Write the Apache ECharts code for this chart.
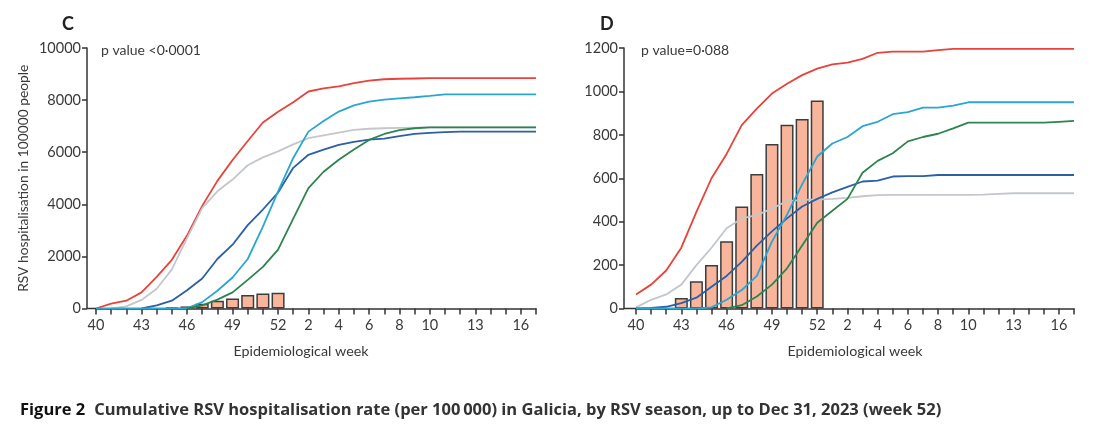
<!DOCTYPE html>
<html>
<head>
<meta charset="utf-8">
<script src="https://cdn.jsdelivr.net/npm/echarts@6/dist/echarts.min.js"></script>
<style>
html,body{margin:0;padding:0;background:#fff;}
#chart{width:1115px;height:434px;}
</style>
</head>
<body>
<div id="chart"></div>
<script>
// Categories: epidemiological weeks 40..52 then 1..17
const weeks = ['40','41','42','43','44','45','46','47','48','49','50','51','52',
  '1','2','3','4','5','6','7','8','9','10','11','12','13','14','15','16','17'];
const weekLabels = ['40','43','46','49','52','2','4','6','8','10','13','16'];
const seriesNames = ['Season red','Season grey','Season dark blue','Season light blue','Season green','2023–24'];
const seriesColors = ['#e8423a','#c3c7cb','#2b5fa6','#2aa6cf','#2d8450'];

// Panel C – cumulative rate per 100 000
const cRed   = [0,190,300,620,1215,1870,2800,3940,4900,5700,6430,7140,7550,7920,8330,8450,8530,8650,8750,8800,8820,8830,8840,8840,8840,8840,8840,8840,8840,8840];
const cGrey  = [null,0,80,330,760,1500,2700,3850,4500,4950,5500,5800,6030,6300,6540,6650,6750,6860,6900,6920,6930,6940,6950,6950,6950,6950,6950,6950,6950,6950];
const cDBlue = [null,null,null,0,120,300,700,1150,1900,2450,3200,3800,4450,5400,5900,6100,6280,6400,6480,6520,6620,6700,6740,6770,6790,6790,6790,6790,6790,6790];
const cLBlue = [0,0,0,0,0,0,10,245,680,1190,1900,3140,4500,5780,6790,7200,7560,7800,7940,8020,8070,8110,8160,8220,8220,8220,8220,8220,8220,8220];
const cGreen = [null,null,null,null,null,null,0,120,340,620,1100,1600,2260,3450,4620,5250,5710,6100,6470,6700,6850,6920,6950,6950,6950,6950,6950,6950,6950,6950];
const cBars  = [null,null,null,null,null,40,80,180,300,380,520,580,600,null,null,null,null,null,null,null,null,null,null,null,null,null,null,null,null,null];

// Panel D
const dRed   = [65,110,175,280,445,600,712,845,921,990,1035,1075,1105,1125,1133,1150,1178,1183,1183,1183,1190,1196,1196,1196,1196,1196,1196,1196,1196,1196];
const dGrey  = [5,40,65,110,200,280,370,415,430,460,495,500,502,505,510,517,522,523,523,523,523,523,523,525,528,531,531,531,531,531];
const dDBlue = [0,3,8,25,50,100,150,215,290,355,415,470,505,535,560,585,589,608,610,610,615,615,615,615,615,615,615,615,615,615];
const dLBlue = [0,0,0,0,0,5,40,85,150,308,432,572,700,760,790,840,860,895,905,925,925,935,950,950,950,950,950,950,950,950];
const dGreen = [null,null,null,null,null,null,0,15,55,110,185,290,395,450,505,625,680,715,770,790,805,830,856,856,856,856,856,856,860,864];
const dBars  = [null,null,null,48,125,200,310,470,620,758,847,873,958,null,null,null,null,null,null,null,null,null,null,null,null,null,null,null,null,null];

const cYTicks = {min:0, max:10000, interval:2000};
const dYTicks = {min:0, max:1200, interval:200};

const FONT = 'Lato';
const TXT = '#3a3a3a';
const AX = '#333';
const gridC = {left:96, top:48, width:440, height:260.5};
const gridD = {left:636, top:48, width:438, height:260.5};
const yOffC = 9, yOffD = 12;

function xAxis(gi, nameShift){
  return {
    type:'category', gridIndex:gi, data:weeks, boundaryGap:false,
    axisLine:{lineStyle:{color:AX,width:1.5}},
    axisTick:{interval:0,length:6,lineStyle:{color:AX,width:1.5}},
    axisLabel:{interval:(i,v)=>weekLabels.includes(v),color:TXT,fontSize:14.5,fontFamily:FONT,margin:9},
    name:'Epidemiological week', nameLocation:'middle', nameGap:36,
    nameTextStyle:{color:TXT,fontSize:14.3,fontFamily:FONT,padding:[0,nameShift,0,0]},
    splitLine:{show:false}
  };
}
function yAxis(gi, t, off, name){
  return {
    type:'value', gridIndex:gi, min:t.min, max:t.max, interval:t.interval, offset:off,
    axisLine:{show:true,lineStyle:{color:AX,width:1.5}},
    axisTick:{show:true,length:5,lineStyle:{color:AX,width:1.5}},
    axisLabel:{color:TXT,fontSize:14.5,fontFamily:FONT,margin:6,formatter:v=>String(v)},
    splitLine:{show:false},
    name:name, nameLocation:'middle', nameGap:56,
    nameTextStyle:{color:TXT,fontSize:13.8,fontFamily:FONT}
  };
}
function lines(gi, arrs){
  return arrs.map((a,k)=>({
    type:'line', name:seriesNames[k], xAxisIndex:gi, yAxisIndex:gi, data:a,
    symbol:'none', z:3, connectNulls:false,
    lineStyle:{color:seriesColors[k],width:1.8}, itemStyle:{color:seriesColors[k]}
  }));
}
function bars(gi, a){
  return {type:'bar', name:seriesNames[5], xAxisIndex:gi, yAxisIndex:gi, data:a, barWidth:'86%', z:2,
    itemStyle:{color:'#f8b59b',borderColor:'#3d3d3d',borderWidth:1.5}};
}

const chart = echarts.init(document.getElementById('chart'));
const yBase = gridC.top + gridC.height;
chart.setOption({
  animation:false,
  textStyle:{fontFamily:FONT},
  grid:[gridC, gridD],
  xAxis:[xAxis(0,30), xAxis(1,0)],
  yAxis:[yAxis(0,cYTicks,yOffC,'RSV hospitalisation in 100000 people'), yAxis(1,dYTicks,yOffD,'')],
  series:[bars(0,cBars), ...lines(0,[cRed,cGrey,cDBlue,cLBlue,cGreen]),
          bars(1,dBars), ...lines(1,[dRed,dGrey,dDBlue,dLBlue,dGreen])],
  graphic:[
    {type:'line',shape:{x1:gridC.left-yOffC,y1:yBase,x2:gridC.left,y2:yBase},style:{stroke:AX,lineWidth:1.5}},
    {type:'line',shape:{x1:gridD.left-yOffD,y1:yBase,x2:gridD.left,y2:yBase},style:{stroke:AX,lineWidth:1.5}},
    {type:'text',left:62,top:15,style:{text:'C',font:'bold 18px '+FONT,fill:'#222'}},
    {type:'text',left:600,top:15,style:{text:'D',font:'bold 18px '+FONT,fill:'#222'}},
    {type:'text',left:101,top:43,style:{text:'p value <0·0001',font:'14px '+FONT,fill:TXT}},
    {type:'text',left:641,top:43,style:{text:'p value=0·088',font:'14px '+FONT,fill:TXT}},
    {type:'text',left:20,top:402,style:{rich:{a:{font:'bold 16.5px "Open Sans"',fill:'#111',padding:[0,9,0,0]},b:{font:'bold 16.5px "Open Sans"',fill:'#333'}},
      text:'{a|Figure 2}{b|Cumulative RSV hospitalisation rate (per 100\u2009000) in Galicia, by RSV season, up to Dec 31, 2023 (week 52)}'}}
  ]
});
</script>
</body>
</html>
